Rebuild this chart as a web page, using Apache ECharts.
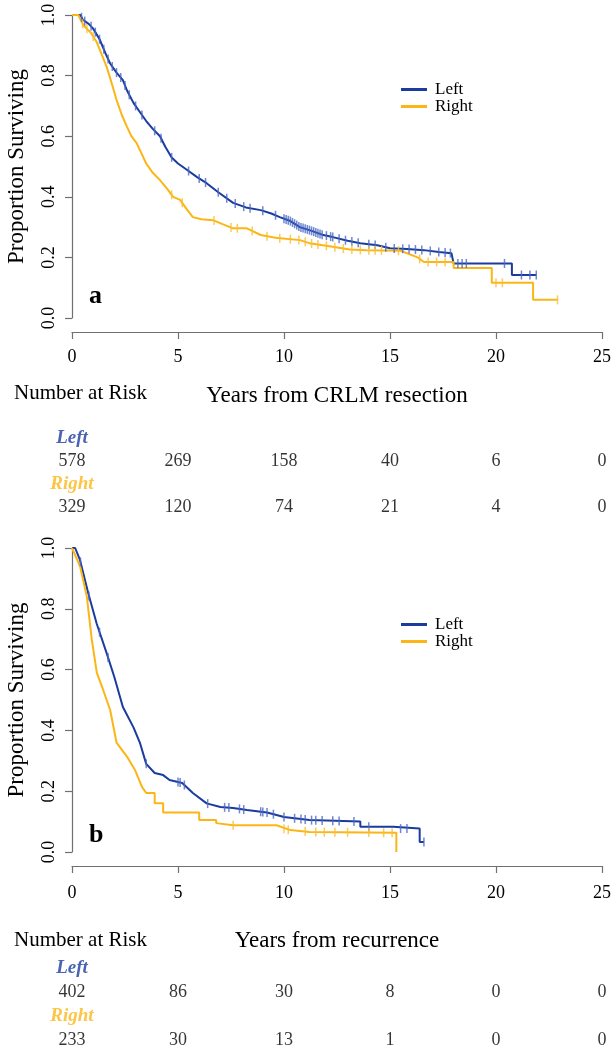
<!DOCTYPE html>
<html><head><meta charset="utf-8">
<script src="https://cdn.jsdelivr.net/npm/echarts@6/dist/echarts.min.js"></script>
<style>html,body{margin:0;padding:0;background:#fff}#c{width:614px;height:1050px}</style>
</head><body><div id="c"></div><script>
// ---- Data ----
const xTicks = [0, 5, 10, 15, 20, 25];
const groups = ['Left', 'Right'];

// Panel a: Years from CRLM resection  [years, proportion surviving]
const aLeft = [[0,1],[0.4,1],[0.5,0.985],[0.8,0.97],[1.0,0.955],[1.3,0.92],[1.6,0.87],[1.8,0.84],[2.1,0.81],[2.4,0.785],[2.6,0.75],[2.9,0.71],[3.2,0.68],[3.5,0.65],[3.8,0.625],[4.15,0.60],[4.4,0.565],[4.7,0.53],[5.0,0.51],[5.4,0.49],[5.9,0.465],[6.35,0.445],[6.9,0.415],[7.6,0.38],[8.2,0.365],[8.9,0.356],[9.4,0.345],[9.8,0.333],[10.3,0.32],[10.75,0.30],[11.2,0.29],[11.8,0.275],[12.3,0.267],[13.0,0.255],[13.6,0.247],[14.4,0.24],[15.0,0.23],[15.8,0.228],[16.6,0.224],[17.3,0.218],[17.9,0.214],[18.0,0.18],[20.75,0.18],[20.75,0.142],[21.9,0.142]];
const aRight = [[0,1],[0.3,1],[0.53,0.967],[0.9,0.94],[1.17,0.91],[1.4,0.87],[1.63,0.83],[1.85,0.78],[2.1,0.72],[2.35,0.67],[2.6,0.63],[2.8,0.60],[3.05,0.577],[3.3,0.54],[3.5,0.51],[3.8,0.48],[4.15,0.455],[4.5,0.425],[4.77,0.40],[5.1,0.39],[5.4,0.36],[5.7,0.333],[6.1,0.326],[6.65,0.323],[7.1,0.31],[7.6,0.296],[8.25,0.296],[8.9,0.274],[9.6,0.265],[10.75,0.257],[11.2,0.247],[12.3,0.235],[13.1,0.226],[13.9,0.224],[15.5,0.222],[16.3,0.20],[16.6,0.185],[18.0,0.185],[18.0,0.165],[19.8,0.165],[19.8,0.116],[21.75,0.116],[21.75,0.06],[22.9,0.06]];
const aLeftCensor = [0.45,0.6,0.9,1.1,1.3,1.5,1.7,1.9,2.1,2.3,2.5,2.7,3.0,3.3,3.9,4.2,4.7,5.5,6.0,6.3,6.9,7.3,7.7,8.1,8.4,9.0,9.6,10.0,10.1,10.2,10.3,10.4,10.5,10.6,10.7,10.8,10.9,11.0,11.1,11.2,11.3,11.4,11.5,11.6,11.7,11.8,12.0,12.2,12.3,12.6,12.9,13.2,13.5,14.0,14.3,14.8,15.2,15.6,15.9,16.2,16.5,16.9,17.3,17.6,17.85,18.2,18.4,18.6,20.4,21.2,21.6,21.9];
const aRightCensor = [0.5,0.7,1.0,4.7,5.2,6.7,7.5,7.8,8.5,9.2,9.8,10.3,10.7,11.0,11.3,11.6,12.0,12.4,12.8,13.2,13.6,14.0,14.3,14.6,15.4,16.4,16.8,17.2,17.6,20.0,20.3,22.9];

// Panel b: Years from recurrence
const bLeft = [[0,1],[0.15,1],[0.38,0.96],[0.77,0.85],[1.17,0.75],[1.63,0.655],[2.0,0.575],[2.4,0.477],[2.9,0.41],[3.2,0.36],[3.5,0.29],[3.9,0.26],[4.3,0.253],[4.6,0.237],[5.2,0.227],[5.7,0.194],[6.35,0.16],[7.0,0.148],[7.6,0.145],[8.25,0.138],[9.2,0.13],[10.0,0.115],[11.2,0.105],[13.6,0.10],[13.6,0.083],[15.15,0.083],[15.2,0.077],[16.4,0.077],[16.4,0.033],[16.6,0.033]];
const bRight = [[0,1],[0.38,0.94],[0.7,0.84],[0.93,0.70],[1.17,0.59],[1.47,0.533],[1.8,0.467],[2.1,0.36],[2.6,0.313],[2.97,0.27],[3.3,0.214],[3.5,0.194],[3.9,0.194],[3.9,0.16],[4.3,0.16],[4.3,0.13],[6.0,0.13],[6.0,0.105],[6.8,0.105],[6.8,0.095],[7.6,0.088],[9.65,0.088],[9.65,0.082],[10.3,0.072],[11.2,0.066],[15.3,0.063],[15.3,0.0]];
const bLeftCensor = [0.4,0.8,1.3,1.7,3.5,5.0,5.1,5.3,6.4,7.2,7.4,7.9,8.1,8.9,9.0,9.2,9.5,10.0,10.5,10.8,11.0,11.3,11.5,11.8,12.3,12.6,13.3,14.0,15.5,15.8,16.6];
const bRightCensor = [7.6,10.0,10.2,11.0,11.5,11.9,12.4,13.0,14.0,14.7,15.1];

// Number at risk
const riskALeft = [578, 269, 158, 40, 6, 0];
const riskARight = [329, 120, 74, 21, 4, 0];
const riskBLeft = [402, 86, 30, 8, 0, 0];
const riskBRight = [233, 30, 13, 1, 0, 0];

// ---- Styling ----
const FONT = "'Liberation Serif','Times New Roman',serif";
const BLUE = '#1b3c9e', ORANGE = '#fbb616';
const BLUE_C = '#4a69c4', ORANGE_C = '#fbbd33';
const AXIS = '#707070';

function valueAt(curve, t) {
  for (let i = 0; i < curve.length - 1; i++) {
    const [x0, y0] = curve[i], [x1, y1] = curve[i + 1];
    if (t >= x0 && t < x1) return y0 + (y1 - y0) * (t - x0) / (x1 - x0);
  }
  return curve[curve.length - 1][1];
}

const chart = echarts.init(document.getElementById('c'), null, {renderer: 'canvas'});

function plotXAxis(grid, name, gap, margin) {
  return {
    gridIndex: grid, type: 'value', min: 0, max: 25, interval: 5, offset: 14,
    axisLine: {show: true, onZero: false, lineStyle: {color: AXIS, width: 1.2}},
    axisTick: {show: true, length: 7, lineStyle: {color: AXIS, width: 1.2}},
    axisLabel: {color: '#000', fontFamily: FONT, fontSize: 18, margin: margin},
    splitLine: {show: false},
    name: name, nameLocation: 'middle', nameGap: gap,
    nameTextStyle: {color: '#000', fontFamily: FONT, fontSize: 23}
  };
}
function plotYAxis(grid) {
  return {
    gridIndex: grid, type: 'value', min: 0, max: 1, interval: 0.2,
    axisLine: {show: true, onZero: false, lineStyle: {color: AXIS, width: 1.2}},
    axisTick: {show: true, length: 7, lineStyle: {color: AXIS, width: 1.2}},
    axisLabel: {color: '#000', fontFamily: FONT, fontSize: 18, margin: 14, rotate: 90,
      formatter: v => v.toFixed(1)},
    splitLine: {show: false},
    name: 'Proportion Surviving', nameLocation: 'middle', nameRotate: 90, nameGap: 44,
    nameTextStyle: {color: '#000', fontFamily: FONT, fontSize: 23}
  };
}
function hiddenX(grid) { return {gridIndex: grid, type: 'value', min: 0, max: 25, show: false}; }
function hiddenY(grid) { return {gridIndex: grid, type: 'value', min: 0, max: 3, inverse: true, show: false}; }

function lineSeries(name, data, color, axis) {
  return {type: 'line', name: name, xAxisIndex: axis, yAxisIndex: axis, data: data,
    showSymbol: false, symbol: 'none', lineStyle: {color: color, width: 2}, itemStyle: {color: color},
    clip: false, z: 3, animation: false};
}
function censorSeries(name, times, curve, color, axis) {
  return {type: 'scatter', name: name, xAxisIndex: axis, yAxisIndex: axis,
    data: times.map(t => [t, valueAt(curve, t)]),
    symbol: 'rect', symbolSize: [1.5, 9], itemStyle: {color: color}, clip: false, z: 4,
    animation: false, silent: true};
}
function riskSeries(axis, leftVals, rightVals) {
  const data = [];
  data.push({value: [xTicks[0], 0], label: {formatter: groups[0], color: BLUE, fontStyle: 'italic', fontWeight: 'bold', fontSize: 19}});
  leftVals.forEach((v, i) => data.push({value: [xTicks[i], 1], label: {formatter: String(v)}}));
  data.push({value: [xTicks[0], 2], label: {formatter: groups[1], color: ORANGE, fontStyle: 'italic', fontWeight: 'bold', fontSize: 19}});
  rightVals.forEach((v, i) => data.push({value: [xTicks[i], 3], label: {formatter: String(v)}}));
  return {type: 'scatter', xAxisIndex: axis, yAxisIndex: axis, data: data, symbolSize: 0, clip: false,
    silent: true, animation: false,
    label: {show: true, position: 'inside', color: '#000', fontFamily: FONT, fontSize: 18}};
}

const legendBase = {
  data: groups, orient: 'vertical', left: 396, itemWidth: 26, itemHeight: 3, icon: 'rect', itemGap: 0,
  selectedMode: false,
  textStyle: {color: '#000', fontFamily: FONT, fontSize: 17, padding: [0, 0, 0, 3]}
};

const gridBase = {left: 72, width: 530, containLabel: false, outerBoundsMode: 'none'};

chart.setOption({
  backgroundColor: '#fff',
  animation: false,
  grid: [
    Object.assign({top: 15, height: 303}, gridBase),
    Object.assign({top: 438, height: 69}, gridBase),
    Object.assign({top: 548, height: 304}, gridBase),
    Object.assign({top: 968, height: 72}, gridBase)
  ],
  xAxis: [plotXAxis(0, 'Years from CRLM resection', 52, 16), hiddenX(1), plotXAxis(2, 'Years from recurrence', 63, 18), hiddenX(3)],
  yAxis: [plotYAxis(0), hiddenY(1), plotYAxis(2), hiddenY(3)],
  legend: [Object.assign({top: 76}, legendBase), Object.assign({top: 611}, legendBase)],
  series: [
    lineSeries('Left', aLeft, BLUE, 0),
    lineSeries('Right', aRight, ORANGE, 0),
    censorSeries('Left censored', aLeftCensor, aLeft, BLUE_C, 0),
    censorSeries('Right censored', aRightCensor, aRight, ORANGE_C, 0),
    lineSeries('Left', bLeft, BLUE, 2),
    lineSeries('Right', bRight, ORANGE, 2),
    censorSeries('Left censored', bLeftCensor, bLeft, BLUE_C, 2),
    censorSeries('Right censored', bRightCensor, bRight, ORANGE_C, 2),
    riskSeries(1, riskALeft, riskARight),
    riskSeries(3, riskBLeft, riskBRight)
  ],
  graphic: [
    {type: 'text', left: 89, top: 283, style: {text: 'a', font: "bold 26px " + FONT, fill: '#000'}},
    {type: 'text', left: 89, top: 822, style: {text: 'b', font: "bold 26px " + FONT, fill: '#000'}},
    {type: 'text', left: 14, top: 383, style: {text: 'Number at Risk', font: "21px " + FONT, fill: '#000'}},
    {type: 'text', left: 14, top: 930, style: {text: 'Number at Risk', font: "21px " + FONT, fill: '#000'}}
  ]
});
</script></body></html>
